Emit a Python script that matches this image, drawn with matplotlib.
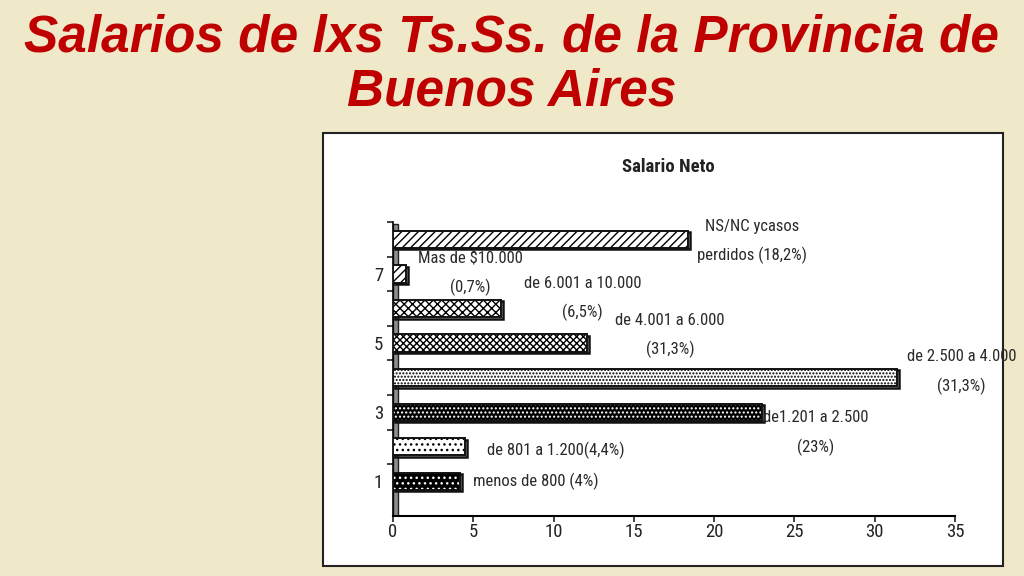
import matplotlib
matplotlib.use("Agg")
import matplotlib.pyplot as plt
import matplotlib.transforms as mtransforms
from matplotlib.patches import Rectangle
from matplotlib import font_manager

categories = ["menos de 800", "de 801 a 1.200", "de1.201 a 2.500", "de 2.500 a 4.000",
              "de 4.001 a 6.000", "de 6.001 a 10.000", "Mas de $10.000", "NS/NC y casos perdidos"]
positions = [1, 2, 3, 4, 5, 6, 7, 8]
values = [4.2, 4.5, 23.0, 31.4, 12.1, 6.7, 0.8, 18.4]
bar_labels = ["menos de 800 (4%)", "de 801 a 1.200(4,4%)", "de1.201 a 2.500\n(23%)",
              "de 2.500 a 4.000\n(31,3%)", "de 4.001 a 6.000\n(31,3%)", "de 6.001 a 10.000\n(6,5%)",
              "Mas de $10.000\n(0,7%)", "NS/NC ycasos\nperdidos (18,2%)"]
label_x = [8.9, 10.15, 26.3, 35.4, 17.25, 11.8, 4.8, 22.35]
label_y = [1.0, 1.9, 2.4, 4.17, 5.22, 6.29, 7.03, 7.94]
yticks = [1, 3, 5, 7]
xticks = [0, 5, 10, 15, 20, 25, 30, 35]

names = sorted({f.name for f in font_manager.fontManager.ttflist})
narrow = "Liberation Sans"
for cand in ["Liberation Sans Narrow", "Roboto Condensed", "Open Sans Condensed", "Arial Narrow", "DejaVu Sans Condensed"]:
    if cand in names:
        narrow = cand
        break

bg = "#EFE9C9"
fig = plt.figure(figsize=(10.24, 5.76), dpi=100, facecolor=bg)

# chart panel
fig.patches.append(Rectangle((323 / 1024, 1 - 566 / 576), (1003 - 323) / 1024, (566 - 133) / 576,
                             transform=fig.transFigure, facecolor="white", edgecolor="#222222",
                             linewidth=1.5, zorder=-5))

fig.text(0.5, 1 - 38 / 576, "Salarios de lxs Ts.Ss. de la Provincia de", ha="center", va="center",
         fontsize=37, fontweight="bold", fontstyle="italic", color="#BF0000", family="Liberation Sans")
fig.text(0.5, 1 - 92 / 576, "Buenos Aires", ha="center", va="center",
         fontsize=37, fontweight="bold", fontstyle="italic", color="#BF0000", family="Liberation Sans")

fig.text(668 / 1024, 1 - 167 / 576, "Salario Neto", ha="center", va="center",
         fontsize=13.5, fontweight="bold", color="#222222", family=narrow)

ax = fig.add_axes([393 / 1024, 1 - 516 / 576, (955 - 393) / 1024, (516 - 222) / 576], zorder=5)
ax.set_facecolor("none")
ax.set_xlim(0, 35)
ax.set_ylim(0, 8.5)

styles = [
    ("black", "white", "..."),
    ("white", "black", "..."),
    ("black", "white", "...."),
    ("white", "black", "....."),
    ("white", "black", "xxxxx"),
    ("white", "black", "xxxx"),
    ("white", "black", "////"),
    ("white", "black", "////"),
]
plt.rcParams["hatch.linewidth"] = 1.0
for p, v, (fc, hc, h) in zip(positions, values, styles):
    ax.barh(p, v, height=0.5, color=fc, edgecolor=hc, hatch=h, linewidth=0, zorder=3)
    ax.barh(p - 0.04, v, height=0.5, left=0.12, fill=False, edgecolor="#111111", linewidth=1.8, zorder=2)
    ax.barh(p, v, height=0.5, fill=False, edgecolor="#111111", linewidth=1.4, zorder=4)

for t, x, y in zip(bar_labels, label_x, label_y):
    ax.text(x, y, t, ha="center", va="center", fontsize=12, color="#2a2a2a", family=narrow,
            linespacing=2.0, clip_on=False)

# 3D wall
ax.add_patch(Rectangle((0, 0), 0.32, 8.45, facecolor="#8C8C8C", edgecolor="#222222", linewidth=1, zorder=1))

ax.set_xticks(xticks)
ax.set_xticklabels([str(x) for x in xticks], family=narrow, fontsize=13.5, color="#222222")
ax.set_yticks(yticks)
ax.set_yticklabels([str(y) for y in yticks], family=narrow, fontsize=13.5, color="#222222")
offset = mtransforms.ScaledTranslation(0, -6 / 100, fig.dpi_scale_trans)
for lbl in ax.get_yticklabels():
    lbl.set_transform(lbl.get_transform() + offset)
ax.set_yticks([p + 0.5 for p in positions], minor=True)
ax.tick_params(axis="y", which="major", length=0, pad=7)
ax.tick_params(axis="y", which="minor", length=4, width=1.2, color="#222222")
ax.tick_params(axis="x", length=4, width=1.2, color="#222222", pad=1)
for s in ["top", "right"]:
    ax.spines[s].set_visible(False)
ax.spines["left"].set_linewidth(1.2)
ax.spines["bottom"].set_linewidth(1.5)

fig.savefig("out.png", dpi=100, facecolor=bg)
